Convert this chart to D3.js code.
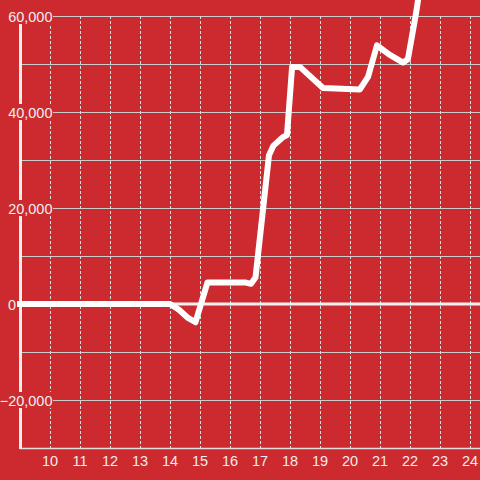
<!DOCTYPE html>
<html>
<head>
<meta charset="utf-8">
<script src="https://cdn.jsdelivr.net/npm/d3@7"></script>
<style>
html,body{margin:0;padding:0;background:#cc2a2f;}
svg{display:block;}
text{font-family:"Liberation Sans",Arial,sans-serif;font-size:14.5px;fill:#eeeeee;}
</style>
</head>
<body>
<script>
// Data
const xValues = [9, 14, 14.3, 14.6, 14.85, 15.25, 16.5, 16.7, 16.85, 17.3, 17.45, 17.75, 17.9, 18.07, 18.33, 19.1, 20.33, 20.6, 20.9, 21.3, 21.77, 21.93, 22.2, 22.5];
const yValues = [0, 0, -1200, -2900, -3800, 4500, 4500, 4200, 5500, 31000, 33000, 34700, 35200, 49400, 49400, 45000, 44700, 47300, 53900, 52000, 50300, 51000, 60500, 73000];
const xTickValues = [10, 11, 12, 13, 14, 15, 16, 17, 18, 19, 20, 21, 22, 23, 24];
const yTickValues = [-20000, 0, 20000, 40000, 60000];
const yGridValues = [-20000, -10000, 0, 10000, 20000, 30000, 40000, 50000, 60000];

const W = 480, H = 480;
const svg = d3.select("body").append("svg").attr("width", W).attr("height", H);
svg.append("rect").attr("width", W).attr("height", H).attr("fill", "#cc2a2f");

const x = d3.scaleLinear().domain([9, 24 + 1/3]).range([20, 480]);
const y = d3.scaleLinear().domain([-30000, 60000]).range([448, 16]);

// horizontal grid
svg.append("g").selectAll("line").data(yGridValues).join("line")
  .attr("x1", 22).attr("x2", W)
  .attr("y1", d => y(d) + 0.5).attr("y2", d => y(d) + 0.5)
  .attr("stroke", "#cccccc").attr("stroke-width", 1);

// vertical dashed grid
svg.append("g").selectAll("line").data(xTickValues).join("line")
  .attr("x1", d => x(d) + 0.5).attr("x2", d => x(d) + 0.5)
  .attr("y1", y(60000)).attr("y2", y(-30000))
  .attr("stroke", "#dddddd").attr("stroke-width", 1).attr("stroke-dasharray", "3,2");

// x axis line
svg.append("line").attr("x1", 20).attr("x2", W)
  .attr("y1", y(-30000) + 0.5).attr("y2", y(-30000) + 0.5)
  .attr("stroke", "#dddddd").attr("stroke-width", 1.5);

// y axis line
svg.append("line").attr("x1", 20.5).attr("x2", 20.5)
  .attr("y1", y(60000)).attr("y2", y(-30000) + 1)
  .attr("stroke", "#eeeeee").attr("stroke-width", 3);

// zero line
svg.append("line").attr("x1", 17).attr("x2", W)
  .attr("y1", y(0)).attr("y2", y(0))
  .attr("stroke", "#f2f2f2").attr("stroke-width", 3);

// data line
const pts = xValues.map((d, i) => [d, yValues[i]]);
svg.append("path").datum(pts)
  .attr("d", d3.line().x(d => x(d[0])).y(d => y(d[1])))
  .attr("fill", "none").attr("stroke", "#ffffff").attr("stroke-width", 6)
  .attr("stroke-linejoin", "round").attr("stroke-linecap", "square");

// x tick labels
svg.append("g").selectAll("text").data(xTickValues).join("text")
  .attr("x", d => x(d)).attr("y", 466)
  .attr("text-anchor", "middle").text(d => d);

// y tick labels with background
const fmt = d3.format(",");
const yl = svg.append("g").selectAll("g").data(yTickValues).join("g");
yl.append("rect").attr("fill", "#cc2a2f");
yl.append("text")
  .attr("x", d => d === 0 ? 16 : 52.5)
  .attr("y", d => y(d) + 5.5)
  .attr("text-anchor", "end").text(d => fmt(d));
yl.each(function(d) {
  const g = d3.select(this);
  const bb = g.select("text").node().getBBox();
  g.select("rect").attr("x", bb.x - 1).attr("width", bb.width + 1.5)
    .attr("y", y(d) - 8).attr("height", 16);
});
</script>
</body>
</html>
